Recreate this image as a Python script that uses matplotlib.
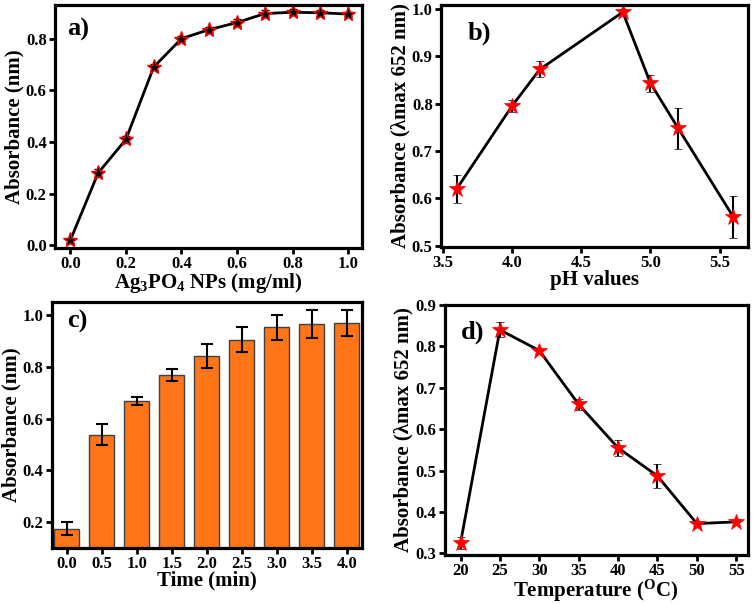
import numpy as np
import matplotlib
matplotlib.use('Agg')
import matplotlib.pyplot as plt

plt.rcParams['font.family'] = ['Liberation Serif', 'DejaVu Serif']
plt.rcParams['font.weight'] = 'bold'
plt.rcParams['axes.labelweight'] = 'bold'
plt.rcParams['mathtext.fontset'] = 'custom'
plt.rcParams['mathtext.rm'] = 'Liberation Serif:bold'
plt.rcParams['mathtext.it'] = 'Liberation Serif:bold:italic'
plt.rcParams['mathtext.bf'] = 'Liberation Serif:bold'

# a) Ag3PO4 amount
conc = [0.0, 0.1, 0.2, 0.3, 0.4, 0.5, 0.6, 0.7, 0.8, 0.9, 1.0]
abs_conc = [0.02, 0.28, 0.41, 0.69, 0.80, 0.835, 0.862, 0.897, 0.902, 0.90, 0.895]
err_conc = [0.01, 0.015, 0.012, 0.01, 0.01, 0.01, 0.012, 0.012, 0.012, 0.012, 0.008]

# b) pH
ph = [3.6, 4.0, 4.2, 4.8, 5.0, 5.2, 5.6]
abs_ph = [0.62, 0.795, 0.872, 0.993, 0.843, 0.748, 0.560]
err_ph = [0.03, 0.013, 0.017, 0.007, 0.018, 0.043, 0.044]

# c) time
time_min = [0.0, 0.5, 1.0, 1.5, 2.0, 2.5, 3.0, 3.5, 4.0]
abs_time = [0.175, 0.537, 0.668, 0.768, 0.842, 0.905, 0.952, 0.965, 0.970]
err_time = [0.025, 0.04, 0.015, 0.025, 0.045, 0.05, 0.048, 0.055, 0.05]

# d) temperature
temp = [20, 25, 30, 35, 40, 45, 50, 55]
abs_temp = [0.325, 0.840, 0.790, 0.660, 0.555, 0.487, 0.372, 0.376]
err_temp = [0.015, 0.018, 0.007, 0.013, 0.02, 0.03, 0.007, 0.008]

fig = plt.figure(figsize=(7.56, 6.04), dpi=100)
ax_a = fig.add_axes([0.0728, 0.5894, 0.4062, 0.4023])
ax_b = fig.add_axes([0.5833, 0.5910, 0.4061, 0.4007])
ax_c = fig.add_axes([0.0684, 0.0927, 0.4100, 0.4073])
ax_d = fig.add_axes([0.5880, 0.0811, 0.4014, 0.4139])

lab_fs = 15
tick_fs = 12
panel_fs = 19


def style(ax):
    for s in ax.spines.values():
        s.set_linewidth(2.3)
    ax.tick_params(direction='out', length=4, width=2, labelsize=tick_fs,
                   top=False, right=False, pad=2)
    for t in ax.get_xticklabels() + ax.get_yticklabels():
        t.set_fontweight('bold')


# a)
ax_a.errorbar(conc, abs_conc, yerr=err_conc, color='black', lw=2, capsize=3,
              elinewidth=1.5, capthick=1.5, marker='*', ms=11,
              mfc='black', mec='red', mew=1)
ax_a.set_xlim(-0.055, 1.05)
ax_a.set_ylim(-0.01, 0.93)
ax_a.set_xticks(np.arange(0, 1.01, 0.2))
ax_a.set_yticks(np.arange(0, 0.81, 0.2))
ax_a.set_xlabel('Ag$_3$PO$_4$ NPs (mg/ml)', fontsize=lab_fs, labelpad=-1)
ax_a.set_ylabel('Absorbance (nm)', fontsize=lab_fs, labelpad=1)
ax_a.text(0.04, 0.9, 'a)', transform=ax_a.transAxes, fontsize=panel_fs,
          fontweight='bold', va='center')
style(ax_a)

# b)
ax_b.errorbar(ph, abs_ph, yerr=err_ph, color='black', lw=2, capsize=3,
              elinewidth=1.5, capthick=1.5, marker='*', ms=12,
              mfc='red', mec='red', mew=0.5)
ax_b.set_xlim(3.486, 5.705)
ax_b.set_ylim(0.497, 1.008)
ax_b.set_xticks(np.arange(3.5, 5.51, 0.5))
ax_b.set_yticks(np.arange(0.5, 1.01, 0.1))
ax_b.set_xlabel('pH values', fontsize=lab_fs, labelpad=-1)
ax_b.set_ylabel('Absorbance (λmax 652 nm)', fontsize=lab_fs, labelpad=1)
ax_b.text(0.088, 0.885, 'b)', transform=ax_b.transAxes, fontsize=panel_fs,
          fontweight='bold', va='center')
style(ax_b)

# c)
ax_c.bar(time_min, abs_time, width=0.35, color='#ff7518', edgecolor='#404040',
         linewidth=1, yerr=err_time, capsize=4,
         error_kw=dict(elinewidth=1.5, capthick=1.5, ecolor='black'))
ax_c.set_xlim(-0.214, 4.214)
ax_c.set_ylim(0.1, 1.05)
ax_c.set_xticks(time_min)
ax_c.set_yticks(np.arange(0.2, 1.01, 0.2))
ax_c.set_xlabel('Time (min)', fontsize=lab_fs, labelpad=-1)
ax_c.set_ylabel('Absorbance (nm)', fontsize=lab_fs, labelpad=1)
ax_c.text(0.05, 0.92, 'c)', transform=ax_c.transAxes, fontsize=panel_fs,
          fontweight='bold', va='center')
style(ax_c)

# d)
ax_d.errorbar(temp, abs_temp, yerr=err_temp, color='black', lw=2, capsize=3,
              elinewidth=1.5, capthick=1.5, marker='*', ms=12,
              mfc='red', mec='red', mew=0.5)
ax_d.set_xlim(17.97, 56.5)
ax_d.set_ylim(0.296, 0.9)
ax_d.set_xticks(temp)
ax_d.set_yticks(np.arange(0.3, 0.91, 0.1))
ax_d.set_xlabel('Temperature ($^\\mathrm{O}$C)', fontsize=lab_fs, labelpad=-1)
ax_d.set_ylabel('Absorbance (λmax 652 nm)', fontsize=lab_fs, labelpad=1)
ax_d.text(0.053, 0.89, 'd)', transform=ax_d.transAxes, fontsize=panel_fs,
          fontweight='bold', va='center')
style(ax_d)

fig.savefig('out.png', dpi=100)
